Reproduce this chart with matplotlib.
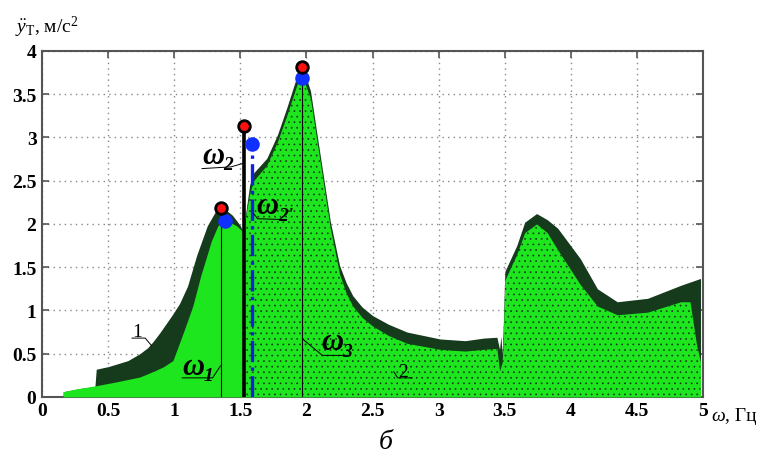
import matplotlib
matplotlib.use("Agg")
import matplotlib.pyplot as plt

plt.rcParams['font.family'] = ['Liberation Serif', 'DejaVu Serif']
plt.rcParams['mathtext.fontset'] = 'custom'
plt.rcParams['mathtext.rm'] = 'Liberation Serif'
plt.rcParams['mathtext.it'] = 'Liberation Serif:italic'
plt.rcParams['hatch.linewidth'] = 0.5

# огибающая кривой 1 (тёмные точки)
w1 = [0.16, 0.30, 0.40, 0.41, 0.50, 0.565, 0.65, 0.74, 0.80, 0.84, 0.89, 0.94,
      0.99, 1.04, 1.10, 1.17, 1.25, 1.31, 1.35, 1.40, 1.44, 1.50, 1.52, 1.57,
      1.60, 1.70, 1.78, 1.85, 1.93, 1.97, 2.03, 2.08, 2.13, 2.18, 2.25, 2.30,
      2.35, 2.42, 2.50, 2.62, 2.76, 3.01, 3.20, 3.34, 3.44, 3.46, 3.47, 3.48,
      3.49, 3.50, 3.59, 3.65, 3.74, 3.82, 3.90, 4.07, 4.20, 4.35, 4.58, 4.83,
      4.98]
a1 = [0.06, 0.10, 0.12, 0.32, 0.35, 0.38, 0.42, 0.50, 0.57, 0.64, 0.74, 0.85,
      0.96, 1.08, 1.28, 1.64, 1.98, 2.14, 2.18, 2.15, 2.10, 1.98, 1.90, 2.45,
      2.59, 2.76, 3.03, 3.34, 3.72, 3.82, 3.54, 3.03, 2.53, 2.03, 1.52, 1.32,
      1.17, 1.04, 0.94, 0.84, 0.75, 0.67, 0.65, 0.68, 0.69, 0.55, 0.70, 0.50,
      0.90, 1.45, 1.75, 2.02, 2.12, 2.05, 1.95, 1.60, 1.25, 1.10, 1.14, 1.29,
      1.37]

# огибающая кривой 2 (светло-зелёные точки)
w2 = [0.16, 0.25, 0.41, 0.55, 0.74, 0.85, 0.92, 0.99, 1.07, 1.14, 1.20, 1.28,
      1.33, 1.37, 1.42, 1.47, 1.52, 1.57, 1.60, 1.70, 1.78, 1.85, 1.93, 1.97,
      2.03, 2.08, 2.13, 2.18, 2.25, 2.30, 2.35, 2.42, 2.50, 2.62, 2.76, 3.01,
      3.20, 3.34, 3.44, 3.46, 3.48, 3.49, 3.50, 3.59, 3.65, 3.74, 3.82, 3.90,
      4.07, 4.20, 4.35, 4.58, 4.83, 4.90, 4.95, 4.98]
a2 = [0.06, 0.09, 0.13, 0.17, 0.23, 0.30, 0.35, 0.42, 0.75, 1.05, 1.40, 1.80,
      1.98, 2.04, 2.02, 1.98, 1.91, 2.35, 2.50, 2.68, 2.95, 3.25, 3.62, 3.70,
      3.45, 2.95, 2.45, 1.95, 1.42, 1.20, 1.05, 0.92, 0.82, 0.71, 0.62, 0.55,
      0.53, 0.55, 0.56, 0.30, 0.40, 0.80, 1.35, 1.65, 1.90, 2.00, 1.90, 1.70,
      1.30, 1.05, 0.95, 0.98, 1.10, 1.10, 0.60, 0.40]

# резонансные частоты и амплитуды
om_red = [1.354, 1.53, 1.965]
amp_red = [2.18, 3.13, 3.81]
om_blue = [1.38, 1.59, 1.965]
amp_blue = [2.03, 2.93, 3.69]

xt = [0, 0.5, 1, 1.5, 2, 2.5, 3, 3.5, 4, 4.5, 5]
xtl = ['0', '0.5', '1', '1.5', '2', '2.5', '3', '3.5', '4', '4.5', '5']
yt = [0, 0.5, 1, 1.5, 2, 2.5, 3, 3.5, 4]
ytl = ['0', '0.5', '1', '1.5', '2', '2.5', '3', '3.5', '4']

dark = '#163a1c'
lime = '#1ee61e'

fig = plt.figure(figsize=(7.67, 4.6), dpi=100)
ax = fig.add_axes([0.0548, 0.135, 0.862, 0.752])

ax.fill_between(w1, 0, a1, color=dark, lw=0, zorder=2)
ax.fill_between(w2, 0, a2, color=lime, lw=0, zorder=3)
ax.fill_between(w2, 0, a2, where=[w >= 1.52 for w in w2], facecolor='none',
                edgecolor=dark, hatch='...', lw=0, zorder=4)

# линии резонансов
ax.vlines(om_red[0], 0, amp_red[0], color='k', lw=0.8, zorder=5)
ax.vlines(om_red[2], 0, amp_red[2], color='k', lw=0.8, zorder=5)
ax.vlines(om_red[1], 0, amp_red[1], color='k', lw=2.6, zorder=5)
ax.plot([om_blue[1], om_blue[1]], [0, amp_blue[1]], color='#1020e0', lw=2.4,
        ls='-.', zorder=5)
ax.scatter(om_blue, amp_blue, s=110, color='#1030ff', zorder=6, lw=0)
ax.scatter(om_red, amp_red, s=70, color='#ff1010', edgecolors='k', lw=2,
           zorder=7)


def omega(x, y, sub):
    ax.text(x, y, 'ω', fontsize=22, style='italic', fontweight='bold', zorder=8)
    ax.annotate(sub, (x, y), xytext=(15.5, -5), textcoords='offset points',
                fontsize=14, style='italic', fontweight='bold', zorder=8)


# подписи
omega(1.06, 0.27, '1')
ax.plot([1.06, 1.29, 1.35], [0.22, 0.22, 0.36], color='k', lw=0.7, zorder=8)
omega(1.21, 2.71, '2')
ax.plot([1.21, 1.43, 1.52], [2.64, 2.66, 2.70], color='k', lw=0.7, zorder=8)
omega(1.62, 2.13, "2'")
ax.plot([1.60, 1.63, 1.84], [2.12, 2.06, 2.05], color='k', lw=0.7, zorder=8)
omega(2.11, 0.55, '3')
ax.plot([1.97, 2.12, 2.31], [0.67, 0.48, 0.48], color='k', lw=0.7, zorder=8)
ax.text(0.685, 0.70, '1', fontsize=14, zorder=8)
ax.plot([0.68, 0.78, 0.83], [0.68, 0.68, 0.59], color='k', lw=0.7, zorder=8)
ax.text(2.695, 0.24, '2', fontsize=14, zorder=8)
ax.plot([2.66, 2.69, 2.80], [0.29, 0.22, 0.22], color='k', lw=0.7, zorder=8)

ax.set_xlim(0, 5)
ax.set_ylim(0, 4)
ax.set_xticks(xt)
ax.set_xticklabels(xtl, fontsize=14, fontweight='bold')
ax.set_yticks(yt)
ax.set_yticklabels(ytl, fontsize=14, fontweight='bold')
ax.tick_params(direction='in', top=True, right=True, length=5, width=1.2,
               color='#555555', pad=4)
ax.grid(True, ls=(0, (1, 3)), color='#888888', lw=1, zorder=1)
ax.set_axisbelow(True)
for s in ax.spines.values():
    s.set_color('#555555')
    s.set_linewidth(1.5)

ax.text(1.012, -0.055, 'ω', transform=ax.transAxes, fontsize=14,
        style='italic', va='center', ha='left')
ax.text(1.033, -0.055, ', Гц', transform=ax.transAxes, fontsize=14,
        va='center', ha='left')
fig.text(0.02, 0.94, r'$\ddot{y}_{\mathrm{Т}}$, м/с$^{\mathrm{2}}$',
         fontsize=14, va='center', ha='left')
fig.text(0.503, 0.037, 'б', fontsize=20, style='italic', ha='center',
         va='center')

fig.savefig('out.png', dpi=100)
